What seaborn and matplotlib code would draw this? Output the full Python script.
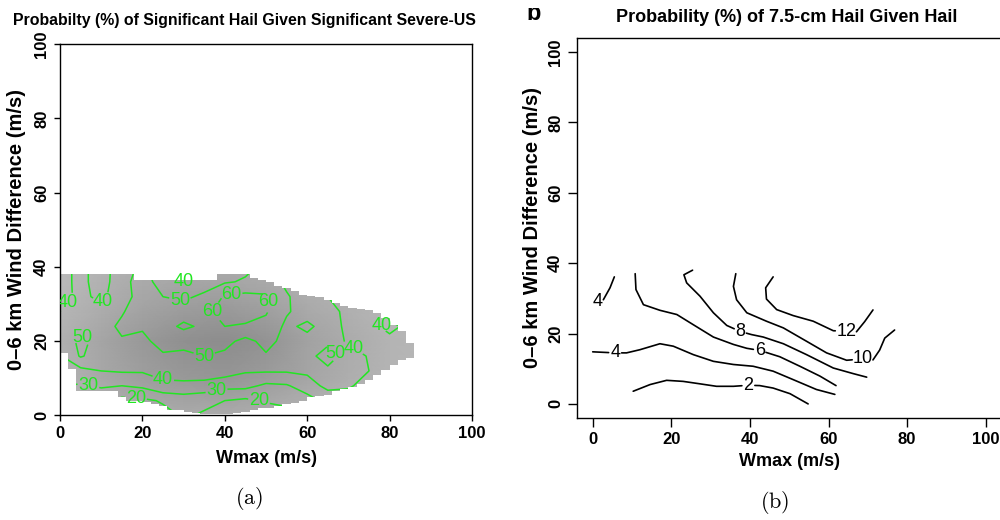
import numpy as np
import seaborn as sns
import matplotlib
matplotlib.use("Agg")
import matplotlib.pyplot as plt
from matplotlib.patches import Polygon, Rectangle
from matplotlib.colors import LinearSegmentedColormap

# ---- panel (a): probability grid (rows = shear, cols = Wmax)
wmax_a = np.arange(0, 90, 5)
shear_a = np.arange(0, 44, 4)
prob_a = np.array([
    [20, 18, 18, 16, 16, 17, 21, 19, 15, 14, 14, 17, 20, 25, 30, 30, 30, 32],
    [24, 23, 24, 17, 18, 21, 24, 22, 20, 18, 21, 22, 26, 33, 36, 33, 32, 33],
    [30, 29, 31, 30, 32, 38, 38, 37, 33, 33, 28, 29, 35, 43, 41, 37, 34, 34],
    [35, 37, 40, 41, 41, 43, 44, 45, 45, 41, 41, 41, 42, 48, 46, 40, 36, 36],
    [39, 51, 45, 46, 46, 49, 48, 50, 48, 46, 49, 47, 47, 54, 46, 39, 37, 37],
    [44, 52, 47, 49, 48, 53, 53, 55, 53, 47, 53, 47, 47, 48, 38, 37, 38, 37],
    [44, 46, 46, 52, 51, 56, 62, 58, 60, 59, 57, 48, 52, 46, 37, 38, 42, 38],
    [40, 43, 43, 49, 56, 55, 55, 58, 63, 64, 61, 51, 46, 44, 37, 36, 36, 36],
    [37, 42, 38, 45, 55, 50, 48, 52, 61, 63, 61, 51, 45, 40, 36, 35, 35, 35],
    [36, 43, 35, 47, 54, 46, 40, 45, 49, 51, 55, 48, 44, 38, 35, 35, 35, 35],
    [36, 43, 35, 46, 52, 44, 38, 42, 45, 48, 52, 46, 43, 38, 35, 35, 35, 35],
])
levels_a = [20, 30, 40, 50, 60]

# background shading (relative darkness) on a coarse grid
shade_x = np.arange(0, 100, 10)
shade_y = np.arange(0, 50, 10)
shade_a = np.array([
    [0.20, 0.30, 0.40, 0.45, 0.45, 0.40, 0.30, 0.25, 0.20, 0.20],
    [0.30, 0.50, 0.65, 0.75, 0.80, 0.70, 0.55, 0.40, 0.30, 0.25],
    [0.35, 0.55, 0.75, 0.90, 0.95, 0.85, 0.60, 0.45, 0.30, 0.25],
    [0.25, 0.40, 0.55, 0.65, 0.70, 0.60, 0.45, 0.35, 0.25, 0.20],
    [0.20, 0.30, 0.40, 0.45, 0.45, 0.40, 0.30, 0.25, 0.20, 0.20],
])

# data coverage: 2 m/s wide columns, top and bottom of the covered shear range
cover_x = np.arange(0, 86, 2)
cover_top = [38, 38, 38, 38, 38, 38, 38, 38, 38,
             36.5, 36.5, 36.5, 36.5, 36.5, 36.5, 36.5, 36.5, 36.5, 36.5,
             38, 38, 38, 38,
             37, 36.5, 36, 35, 34.3, 33.4, 32.5, 32.2, 32, 31, 30.3, 29.5,
             29, 28.7, 28.5, 27.5, 26.2, 24.5, 22.7, 19.5]
cover_bottom = [16.8, 12.5, 6.5, 6.5, 6.5, 6.5, 6.5, 5, 4, 3.8,
                3.5, 3, 2.5, 1.5, 1.5, 1, 0.6, 0.5, 0.5, 0.5,
                0.5, 0.6, 1, 1.5, 2, 2, 2.5, 3, 3.3, 4,
                5, 5.3, 5.6, 6.5, 7.2, 7.8, 8.5, 9.6, 11, 12.3,
                13.5, 15, 15.5]

# ---- panel (b): contour lines (lab = vertex carrying the label)
b_lines = [
    dict(level=2, x=[10.3, 14.6, 18.8, 23.0, 27.3, 31.5, 35.8, 39.6, 42.5, 45.9, 50.2, 54.8],
         y=[3.6, 5.5, 6.7, 6.4, 5.7, 5.0, 5.0, 5.3, 5.2, 4.5, 2.9, 0.0], lab=7),
    dict(level=4, x=[0.0, 5.7, 8.6, 12.0, 17.1, 20.5, 25.6, 30.7, 35.8, 40.8, 45.9, 51.0, 56.9, 61.6],
         y=[14.8, 14.5, 14.5, 15.4, 17.1, 16.4, 14.0, 12.1, 11.2, 10.7, 9.3, 6.9, 4.1, 2.7], lab=1),
    dict(level=4, x=[1.3, 2.7, 4.4, 5.5], y=[29.2, 29.6, 33.0, 36.1], lab=0),
    dict(level=6, x=[10.8, 11.0, 12.9, 17.1, 21.4, 25.6, 30.7, 35.8, 39.2, 42.5, 47.6, 52.7, 57.8, 61.9],
         y=[37.0, 32.5, 28.2, 26.6, 25.4, 22.5, 19.0, 16.9, 15.8, 15.2, 13.4, 10.7, 7.9, 5.2], lab=9),
    dict(level=8, x=[25.4, 23.2, 23.9, 27.3, 30.7, 34.1, 37.5, 40.4, 43.4, 48.5, 54.4, 61.2, 66.3, 69.7],
         y=[38.0, 36.7, 34.4, 30.6, 25.9, 22.3, 20.6, 19.7, 19.0, 17.1, 14.0, 10.2, 8.6, 7.6], lab=6),
    dict(level=10, x=[36.4, 35.8, 36.6, 39.2, 44.2, 48.5, 54.4, 59.5, 64.6, 68.8, 71.3, 73.0, 74.3, 76.8],
         y=[37.0, 33.4, 29.6, 25.9, 23.5, 21.6, 17.8, 14.5, 12.4, 12.8, 12.5, 15.3, 18.7, 21.0], lab=9),
    dict(level=12, x=[45.9, 44.0, 44.2, 46.8, 51.0, 56.1, 61.2, 64.5, 67.1, 69.2, 71.3],
         y=[36.1, 33.0, 29.8, 26.8, 25.1, 23.5, 20.8, 20.6, 20.5, 23.4, 26.7], lab=7),
]

ticks = [0, 20, 40, 60, 80, 100]
ylabel = "0\u20136 km Wind Difference (m/s)"
xlabel = "Wmax (m/s)"
green = "#22e622"

sns.set_theme(style="ticks")
plt.rcParams["font.family"] = ["Liberation Sans", "DejaVu Sans"]
plt.rcParams["mathtext.fontset"] = "cm"
for key in ["axes.edgecolor", "xtick.color", "ytick.color", "text.color", "axes.labelcolor"]:
    plt.rcParams[key] = "black"

fig = plt.figure(figsize=(10, 5.2), dpi=100)
ax_a = fig.add_axes([0.060, 0.201, 0.412, 0.714])
ax_b = fig.add_axes([0.577, 0.1962, 0.4245, 0.7308])


def style_axes(ax, ticklen):
    ax.set_xticks(ticks)
    ax.set_yticks(ticks)
    ax.tick_params(direction="out", length=ticklen, width=1, pad=3.5, labelsize=12,
                   top=False, right=False)
    plt.setp(ax.get_xticklabels(), fontweight="bold")
    plt.setp(ax.get_yticklabels(), fontweight="bold", rotation=90, va="center")
    for s in ax.spines.values():
        s.set_linewidth(1.0)
        s.set_color("black")
    ax.set_xlabel(xlabel, fontsize=13, fontweight="bold")
    ax.set_ylabel(ylabel, fontsize=14.5, fontweight="bold")


def cut_point(p_far, p_lab, gap):
    # point on the segment p_lab -> p_far lying `gap` pixels away from the label
    d = np.hypot(*(p_far - p_lab))
    return p_lab + (p_far - p_lab) * min(gap / d, 1.0)


def pieces_around_label(ax, xs, ys, i, gap):
    pts = ax.transData.transform(np.column_stack([xs, ys]))
    inv = ax.transData.inverted()
    out = []
    if i > 0:
        head = np.vstack([pts[:i], cut_point(pts[i - 1], pts[i], gap)])
        out.append(inv.transform(head))
    if i < len(xs) - 1:
        tail = np.vstack([cut_point(pts[i + 1], pts[i], gap), pts[i + 1:]])
        out.append(inv.transform(tail))
    return out


# ---- panel (a)
ax_a.set_xlim(0, 100)
ax_a.set_ylim(0, 100)
style_axes(ax_a, 4.3)
ax_a.xaxis.set_label_coords(0.5, -0.093)
ax_a.yaxis.set_label_coords(-0.083, 0.5)

verts = []
for x0, t in zip(cover_x, cover_top):
    verts += [(x0, t), (x0 + 2, t)]
for x0, b in zip(cover_x[::-1], cover_bottom[::-1]):
    verts += [(x0 + 2, b), (x0, b)]
clip = Polygon(verts, closed=True, facecolor="none", edgecolor="none",
               transform=ax_a.transData)

gray = LinearSegmentedColormap.from_list("hailgray", ["#c6c6c6", "#8a8a8a"])
SX, SY = np.meshgrid(shade_x, shade_y)
mesh = ax_a.pcolormesh(SX, SY, shade_a, shading="gouraud", cmap=gray, vmin=0, vmax=1)
mesh.set_clip_path(clip)

cs = ax_a.contour(wmax_a, shear_a, prob_a, levels=levels_a, colors=green, linewidths=1.1)
label_spots = [(3.0, 29.5), (10.7, 30.3), (5.3, 20.8), (7.0, 8.7), (18.5, 6.0),
               (25.0, 9.4), (29.9, 35.5), (29.1, 30.8), (35.2, 26.2), (41.7, 31.6),
               (49.0, 30.7), (34.6, 14.1), (38.0, 6.6), (48.5, 5.1), (66.3, 16.3),
               (70.8, 17.4), (78.0, 24.8)]
texts = ax_a.clabel(cs, fmt="%d", fontsize=13, inline=True, inline_spacing=1,
                    manual=label_spots, colors=green)
for t in texts:
    t.set_rotation(0)
cs.set_clip_path(clip)

# ---- panel (b)
ax_b.set_xlim(-4, 104)
ax_b.set_ylim(-4, 104)
style_axes(ax_b, 6.5)
ax_b.xaxis.set_label_coords(0.5, -0.092)
ax_b.yaxis.set_label_coords(-0.083, 0.5)
for ln in b_lines:
    i = ln["lab"]
    lab = str(ln["level"])
    gap = 6.5 if len(lab) == 1 else 11.0
    for seg in pieces_around_label(ax_b, ln["x"], ln["y"], i, gap):
        sns.lineplot(x=seg[:, 0], y=seg[:, 1], sort=False, estimator=None, color="black",
                     linewidth=1.2, ax=ax_b)
    ax_b.text(ln["x"][i], ln["y"][i], lab, fontsize=13, ha="center", va="center", zorder=5)

# ---- titles and captions
fig.text(0.244, 1 - 21 / 520, "Probabilty (%) of Significant Hail Given Significant Severe-US",
         ha="center", va="center", fontsize=11.4, fontweight="bold")
fig.text(0.787, 1 - 18 / 520, "Probability (%) of 7.5-cm Hail Given Hail",
         ha="center", va="center", fontsize=13, fontweight="bold")
fig.text(0.534, 1 - 20 / 520, "b", ha="center", va="baseline", fontsize=17,
         fontweight="bold", zorder=3)
# the panel letter is cut off at the top of the page
fig.patches.append(Rectangle((0.5, 1 - 8 / 520), 0.1, 8 / 520, transform=fig.transFigure,
                             facecolor="white", edgecolor="none", zorder=10))

fig.text(0.249, 1 - 498 / 520, r"$\mathrm{(a)}$", ha="center", va="center", fontsize=16)
fig.text(0.775, 1 - 502 / 520, r"$\mathrm{(b)}$", ha="center", va="center", fontsize=16)

fig.savefig("out.png", dpi=100)
